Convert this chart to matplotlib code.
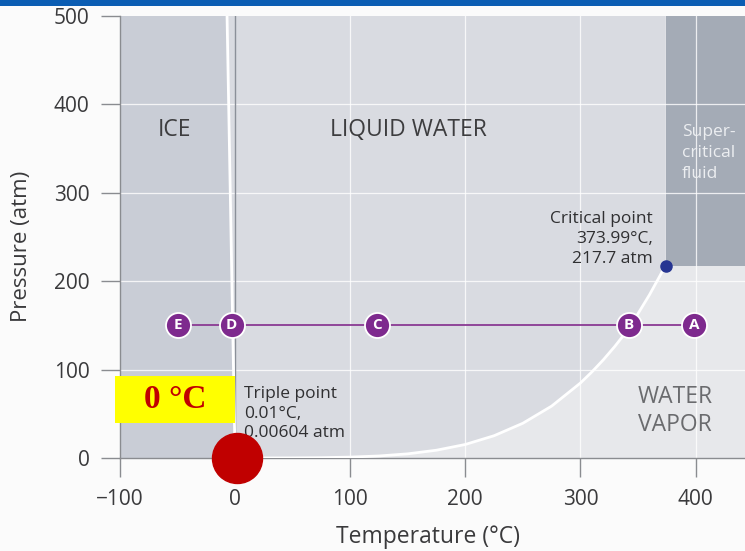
import matplotlib
matplotlib.use("Agg")
import matplotlib.pyplot as plt
from matplotlib.patches import Rectangle, Polygon
import numpy as np

plt.rcParams['font.family'] = ['Open Sans', 'DejaVu Sans']

# Vapor-pressure (liquid/vapor) boundary (degC, atm)
vap_T = [0.01, 25, 50, 75, 100, 125, 150, 175, 200, 225, 250, 275, 300, 310, 320, 330, 340, 350, 360, 373.99]
vap_P = [0.006, 0.031, 0.122, 0.38, 1.0, 2.29, 4.7, 8.82, 15.3, 25.2, 39.3, 58.7, 84.8, 97.4, 111.2, 126.4, 143.0, 163.2, 184.6, 217.7]
# Melting (ice/liquid) boundary
melt_T = [0.01, -7]
melt_P = [0.006, 500]
# Critical and triple points
crit_T, crit_P = 373.99, 217.7
trip_T, trip_P = 0.01, 0.00604
# Path points at constant pressure
path_labels = ['E', 'D', 'C', 'B', 'A']
path_T = [-50, -3, 123, 342, 399]
path_P = 150

xticks = [-100, 0, 100, 200, 300, 400]
xticklabels = ['\u2212100', '0', '100', '200', '300', '400']
yticks = [0, 100, 200, 300, 400, 500]
xlim = (-100, 443)
ylim = (0, 500)

c_ice = '#c9cdd6'
c_liq = '#d9dbe1'
c_vap = '#e7e8eb'
c_sc = '#a4abb6'

fig = plt.figure(figsize=(7.45, 5.51), dpi=100)
fig.patch.set_facecolor('#fbfbfb')
W, H = 745, 551
ax = fig.add_axes([120 / W, 1 - 458 / H, (745 - 120) / W, (458 - 16) / H])
ax.set_xlim(*xlim)
ax.set_ylim(*ylim)
ax.set_facecolor(c_vap)

# liquid region
liq = list(zip(melt_T[::-1], melt_P[::-1])) + list(zip(vap_T, vap_P)) + [(crit_T, ylim[1])]
ax.add_patch(Polygon(liq, closed=True, facecolor=c_liq, edgecolor='none', zorder=1))
# ice region
ice = [(xlim[0], ylim[0]), (melt_T[0], ylim[0])] + list(zip(melt_T, melt_P)) + [(xlim[0], ylim[1])]
ax.add_patch(Polygon(ice, closed=True, facecolor=c_ice, edgecolor='none', zorder=1))
# supercritical region
ax.add_patch(Rectangle((crit_T, crit_P), xlim[1] - crit_T, ylim[1] - crit_P,
                       facecolor=c_sc, edgecolor='none', zorder=1))

# grid
for x in xticks[2:]:
    ax.axvline(x, color='white', lw=0.9, alpha=0.8, zorder=2)
for y in yticks[1:-1]:
    ax.axhline(y, color='white', lw=0.9, alpha=0.8, zorder=2)
ax.plot([0, 0], [trip_P, 500], color='#8b9099', lw=1.0, zorder=2)

# boundaries
ax.plot(melt_T, melt_P, color='white', lw=2.0, zorder=3)
ax.plot(vap_T, vap_P, color='white', lw=2.0, zorder=3)

# path line and points
ax.plot([path_T[0], path_T[-1]], [path_P, path_P], color='#8a3a93', lw=1.3, zorder=4)
for lab, t in zip(path_labels, path_T):
    ax.plot(t, path_P, 'o', ms=18, mfc='#7e2a8e', mec='white', mew=1.3, zorder=5)
    ax.text(t, path_P, lab, color='white', fontsize=11, fontweight='bold',
            ha='center', va='center', zorder=6)

# critical point
ax.plot(crit_T, crit_P, 'o', ms=8, color='#263592', zorder=5)

# region labels
ax.text(-53, 371, 'ICE', fontsize=16.5, color='#3d3d3f', ha='center', va='center', zorder=6)
ax.text(151, 371, 'LIQUID WATER', fontsize=16.5, color='#3d3d3f', ha='center', va='center', zorder=6)
ax.text(388, 345, 'Super-\ncritical\nfluid', fontsize=12.5, color='#eceef1', ha='left',
        va='center', linespacing=1.4, zorder=6)
ax.text(363, 248, 'Critical point\n373.99°C,\n217.7 atm', fontsize=12.5, color='#2f2f31',
        ha='right', va='center', linespacing=1.35, zorder=6)
ax.text(382, 53, 'WATER\nVAPOR', fontsize=16.5, color='#6a6b6e', ha='center', va='center',
        linespacing=1.25, zorder=6)
ax.text(8, 50, 'Triple point\n0.01°C,\n0.00604 atm', fontsize=12.5, color='#2f2f31',
        ha='left', va='center', linespacing=1.3, zorder=6)

# axes styling
for s in ['top', 'right']:
    ax.spines[s].set_visible(False)
for s in ['left', 'bottom']:
    ax.spines[s].set_color('#8a8c90')
    ax.spines[s].set_linewidth(1.0)
ax.set_xticks(xticks)
ax.set_yticks(yticks)
ax.set_xticklabels(xticklabels)
ax.tick_params(direction='out', length=14, width=1.0, color='#8a8c90',
               labelsize=15, labelcolor='#3a3a3c', pad=8)
ax.set_xlabel('Temperature (°C)', fontsize=16.5, color='#3a3a3c')
ax.set_ylabel('Pressure (atm)', fontsize=16, color='#3a3a3c')
ax.xaxis.set_label_coords((428 - 120) / 625, -(537 - 458) / 442)
ax.xaxis.label.set_va('center')
ax.yaxis.set_label_coords(-(120 - 22) / 625, (458 - 246) / 442)
ax.yaxis.label.set_va('center')

# overlay annotations
ax.add_patch(Rectangle((-104, 40), 104, 53, facecolor='#ffff00', edgecolor='none',
                       zorder=7, clip_on=False))
ax.text(-52, 66.5, '0 °C', fontsize=24, fontweight='bold', color='#c00000',
        family=['Liberation Serif', 'DejaVu Serif'], ha='center', va='center', zorder=8)
ax.plot(trip_T + 2, 0, 'o', ms=36, color='#c00000', zorder=8, clip_on=False)

# blue bar on top
fig.patches.append(Rectangle((0, 1 - 6 / H), 1, 6 / H, transform=fig.transFigure,
                             facecolor='#0b5db3', edgecolor='none'))

fig.savefig('out.png', dpi=100, facecolor=fig.get_facecolor())
